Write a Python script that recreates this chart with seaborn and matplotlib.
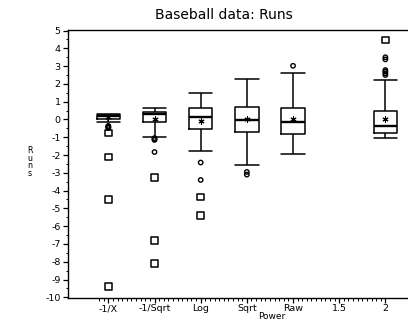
import numpy as np
import pandas as pd
import matplotlib
matplotlib.use("Agg")
import matplotlib.pyplot as plt
from matplotlib.ticker import FixedLocator, MultipleLocator
import seaborn as sns

# Transformation powers shown along the x axis
POWER = ["-1/X", "-1/Sqrt", "Log", "Sqrt", "Raw", "1.5", "2"]

# Schematic box statistics of standardized runs for each power (nan = no data)
WHISKER_LOW = [-0.13, -0.96, -1.80, -2.54, -1.94, np.nan, -1.05]
Q1 = [0.03, -0.12, -0.53, -0.72, -0.81, np.nan, -0.77]
MEDIAN = [0.18, 0.30, 0.13, -0.02, -0.15, np.nan, -0.34]
Q3 = [0.27, 0.41, 0.64, 0.69, 0.64, np.nan, 0.48]
WHISKER_HIGH = [0.31, 0.67, 1.51, 2.28, 2.60, np.nan, 2.23]
MEAN = [0.12, 0.03, -0.06, 0.00, 0.00, np.nan, 0.00]

# Outside values (circle) and far-outside values (square)
MILD_OUTLIERS = {
    "-1/X": [-0.36, -0.40, -0.44, -0.48],
    "-1/Sqrt": [-1.05, -1.10, -1.15, -1.83],
    "Log": [-2.42, -3.40],
    "Sqrt": [-2.95, -3.10],
    "Raw": [3.02],
    "2": [2.50, 2.60, 2.70, 2.78, 3.38, 3.50],
}
FAR_OUTLIERS = {
    "-1/X": [-0.77, -2.10, -4.50, -9.40],
    "-1/Sqrt": [-3.25, -6.80, -8.10],
    "Log": [-4.35, -5.40],
    "2": [4.48],
}

# Five-number rows: with whis=(0, 100) the box and whiskers land on these values
five = pd.DataFrame(
    [(p, v)
     for p, *vals in zip(POWER, WHISKER_LOW, Q1, MEDIAN, Q3, WHISKER_HIGH)
     for v in vals if not np.isnan(v)],
    columns=["Power", "Runs"],
)
pos = {p: i for i, p in enumerate(POWER)}
means = pd.DataFrame({"x": [pos[p] for p, m in zip(POWER, MEAN) if not np.isnan(m)],
                      "y": [m for m in MEAN if not np.isnan(m)]})
mild = pd.DataFrame([(pos[p], v) for p, vs in MILD_OUTLIERS.items() for v in vs],
                    columns=["x", "y"])
far = pd.DataFrame([(pos[p], v) for p, vs in FAR_OUTLIERS.items() for v in vs],
                   columns=["x", "y"])

sns.set_theme(style="ticks")
plt.rcParams["font.family"] = ["DejaVu Sans"]
plt.rcParams["axes.unicode_minus"] = False

W, H = 408, 320
fig = plt.figure(figsize=(W / 100, H / 100), dpi=100)
ax = fig.add_axes([67.7 / W, 1 - 298 / H, (W - 67.7) / W, (298 - 29.7) / H])

sns.boxplot(data=five, x="Power", y="Runs", order=POWER, whis=(0, 100),
            width=0.505, fill=False, color="black", linewidth=1.1,
            showfliers=False, capwidths=0.505,
            medianprops={"linewidth": 1.7}, ax=ax)

sns.scatterplot(data=mild, x="x", y="y", marker="o", s=10, facecolor="none",
                edgecolor="black", linewidth=1.0, ax=ax, legend=False)
sns.scatterplot(data=far, x="x", y="y", marker="s", s=22, facecolor="none",
                edgecolor="black", linewidth=1.1, ax=ax, legend=False)
sns.scatterplot(data=means, x="x", y="y", marker=(6, 2, 0), s=14,
                color="black", linewidth=0.8, ax=ax, legend=False)

ax.set_xlim(-0.88, 6.49)
ax.set_ylim(-10.04, 5.05)
ax.xaxis.set_major_locator(FixedLocator(range(len(POWER))))
ax.set_xticklabels(POWER)
ax.xaxis.set_minor_locator(FixedLocator(np.arange(-0.2, 6.05, 0.1)))
ax.yaxis.set_major_locator(MultipleLocator(1))
ax.yaxis.set_minor_locator(MultipleLocator(0.5))

for s in ["left", "top", "bottom"]:
    ax.spines[s].set_color("black")
    ax.spines[s].set_linewidth(1.0)
ax.spines["right"].set_visible(False)

ax.tick_params(axis="both", which="major", length=3.5, width=0.9,
               color="black", labelsize=6.8, labelcolor="black", pad=1.5)
ax.tick_params(axis="both", which="minor", length=1.8, width=0.7, color="black")
ax.tick_params(axis="x", which="major", labelsize=6.8, pad=1.0)
ax.set_xlabel("")
ax.set_ylabel("")

fig.text(271.7 / W, 1 - 318.8 / H, "Power", ha="center", va="baseline",
         fontsize=6.5, color="black")
fig.text(30 / W, 1 - 162 / H, "R\nu\nn\ns", ha="center", va="center",
         fontsize=5.8, linespacing=0.78, color="black")
fig.text(223.5 / W, 1 - 19 / H, "Baseball data: Runs", ha="center",
         va="baseline", fontsize=10, color="black")

fig.savefig("out.png", dpi=100)
